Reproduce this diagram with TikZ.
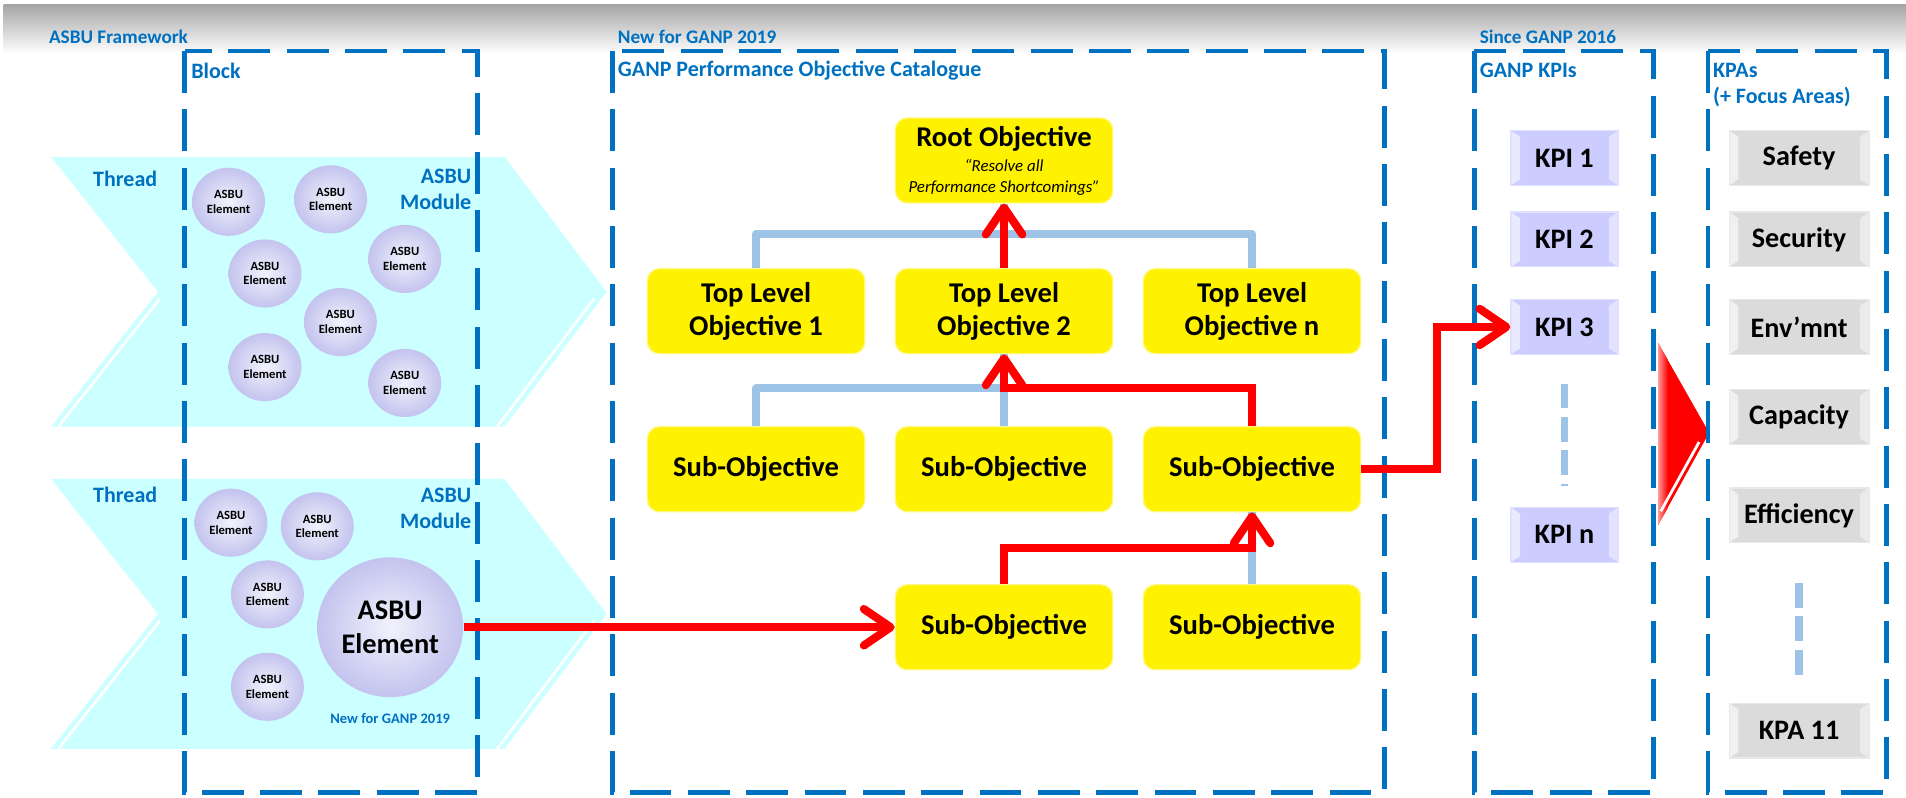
\documentclass[tikz,border=0pt]{standalone}
\usepackage{fontspec}
\setmainfont{Carlito}
\usetikzlibrary{arrows.meta,shapes.geometric}

\begin{document}
\begin{tikzpicture}[x=0.02cm, y=-0.02cm,
	%Option for the red arrows
	>={Straight Barb[round,length=0.44cm,width=0.6cm]},
	inner sep=0pt,
	dashframe/.style={draw=asbublue, line width=2.2pt, dash pattern=on 0.69cm off 0.27cm},
	toplabel/.style={text=asbublue, font=\bfseries\fontsize{9}{11}\selectfont},
	framelabel/.style={text=asbublue, font=\bfseries\fontsize{10.3}{12.2}\selectfont},
	asbuelem/.style={ellipse, minimum width=1.2cm, minimum height=1.12cm, align=center,
		inner color=elemlight, outer color=elemdark, font=\bfseries\fontsize{5.9}{6.8}\selectfont},
	bigelem/.style={asbuelem, minimum width=2.4cm, minimum height=2.3cm,
		font=\bfseries\fontsize{13.3}{15.9}\selectfont},
	objbox/.style={fill=yellow, draw=yellow!50!white, line width=0.6pt, rounded corners=0.2cm,
		minimum width=3.58cm, minimum height=1.4cm, align=center,
		font=\bfseries\fontsize{13.4}{15.3}\selectfont},
	bevel/.style={path picture={
		\fill[white, opacity=0.6] (path picture bounding box.north west) -- ++(0.15cm,-0.1cm)
		-- ([shift={(0.15cm,0.1cm)}]path picture bounding box.south west)
		-- (path picture bounding box.south west) -- cycle;
		\fill[white, opacity=0.45] (path picture bounding box.north east) -- ++(-0.15cm,-0.1cm)
		-- ([shift={(-0.15cm,0.1cm)}]path picture bounding box.south east)
		-- (path picture bounding box.south east) -- cycle;}},
	kpibox/.style={fill=kpiblue, draw=kpiblue!60!white, line width=0.6pt, bevel,
		minimum width=1.76cm, minimum height=0.9cm, font=\bfseries\fontsize{13.2}{15}\selectfont},
	kpabox/.style={kpibox, fill=kpagray, draw=kpagray!60!white, minimum width=2.3cm},
	treelink/.style={draw=treeblue, line width=3.8pt, line join=round},
	redlink/.style={draw=red, line width=3.8pt, ->},
	morelink/.style={draw=treeblue, line width=0.12cm, dash pattern=on 0.41cm off 0.14cm},
	]
	% Colors
	\definecolor{asbublue}{HTML}{0070C0}
	\definecolor{threadcyan}{HTML}{CCFFFF}
	\definecolor{treeblue}{HTML}{9DC3E6}
	\definecolor{kpiblue}{HTML}{CCCCFF}
	\definecolor{kpagray}{HTML}{DBDBDB}
	\definecolor{elemlight}{HTML}{F2F2FD}
	\definecolor{elemdark}{HTML}{C3C3EE}
	
	\useasboundingbox (0,0) rectangle (1568,656);
	
	% Header band
	\shade[top color=black!35, bottom color=white] (3,4) rectangle (1568,44);
	\node[toplabel, anchor=west] (fwlbl) at (40,30) {ASBU Framework};
	\node[toplabel, anchor=west] (new19lbl) at (508,30) {New for GANP 2019};
	\node[toplabel, anchor=west] (since16lbl) at (1217,30) {Since GANP 2016};
	
	% Threads
	\foreach \m in {240,505}{
		\fill[threadcyan] (42,\m-111) -- (415,\m-111) -- (499,\m) -- (415,\m+111)
		-- (42,\m+111) -- (130,\m) -- cycle;
		\draw[white, line width=1.2pt] (131.6,\m+5.5) -- (48,\m+111)
		(488.8,\m+5.5) -- (409,\m+111);
	}
	
	% KPI to KPA arrow
	\fill[red] (1364,282) -- (1406,356) -- (1364,432) -- cycle;
	\shade[left color=red!40!white, right color=red] (1364,282) -- (1372,296) -- (1372,418) -- (1364,432) -- cycle;
	\draw[white, line width=1.3pt] (1397.8,363.6) -- (1366.3,420.6);
	
	% Frames
	\draw[dashframe] (152,42) rectangle (393,652);
	\draw[dashframe] (504,42) rectangle (1139,652);
	\draw[dashframe] (1213,42) rectangle (1360,652);
	\draw[dashframe] (1405,42) rectangle (1552,652);
	
	\node[framelabel, anchor=west] (blocklbl) at (157,58) {Block};
	\node[framelabel, anchor=west] (poclbl) at (508,58) {GANP Performance Objective Catalogue};
	\node[framelabel, anchor=west] (kpilbl) at (1217,58) {GANP KPIs};
	\node[framelabel, anchor=west, align=left] (kpalbl) at (1409,70) {KPAs\\(+ Focus Areas)};
	
	\node[framelabel] (thread1) at (103,147) {Thread};
	\node[framelabel] (thread2) at (103,407) {Thread};
	\node[framelabel, anchor=east, align=right] (module1) at (388,156) {ASBU\\Module};
	\node[framelabel, anchor=east, align=right] (module2) at (388,418) {ASBU\\Module};
	
	% ASBU elements
	\node[asbuelem] (el1) at (188,166) {ASBU\\Element};
	\node[asbuelem] (el2) at (272,164) {ASBU\\Element};
	\node[asbuelem] (el3) at (218,225) {ASBU\\Element};
	\node[asbuelem] (el4) at (333,213) {ASBU\\Element};
	\node[asbuelem] (el5) at (280,265) {ASBU\\Element};
	\node[asbuelem] (el6) at (218,302) {ASBU\\Element};
	\node[asbuelem] (el7) at (333,315) {ASBU\\Element};
	
	\node[asbuelem] (el8) at (190,430) {ASBU\\Element};
	\node[asbuelem] (el9) at (261,433) {ASBU\\Element};
	\node[asbuelem] (el10) at (220,489) {ASBU\\Element};
	\node[asbuelem] (el11) at (220,565) {ASBU\\Element};
	\node[bigelem] (bigel) at (321,516) {ASBU\\Element};
	\node[text=asbublue, font=\bfseries\fontsize{6.8}{8}\selectfont] (newel) at (321,591) {New for GANP 2019};
	
	% Objectives
	\node[objbox] (root) at (826,132) {Root Objective\\[-3.4pt]
		{\mdseries\itshape\fontsize{7.9}{9.6}\selectfont “Resolve all}\\[-5.7pt]
		{\mdseries\itshape\fontsize{7.9}{9.6}\selectfont Performance Shortcomings”}};
	\node[objbox] (tlo1) at (622,256) {Top Level\\Objective 1};
	\node[objbox] (tlo2) at (826,256) {Top Level\\Objective 2};
	\node[objbox] (tlon) at (1030,256) {Top Level\\Objective n};
	\node[objbox] (sub11) at (622,386) {Sub-Objective};
	\node[objbox] (sub12) at (826,386) {Sub-Objective};
	\node[objbox] (sub13) at (1030,386) {Sub-Objective};
	\node[objbox] (sub21) at (826,516) {Sub-Objective};
	\node[objbox] (sub22) at (1030,516) {Sub-Objective};
	
	% KPIs
	\node[kpibox] (kpi1) at (1287,130) {KPI 1};
	\node[kpibox] (kpi2) at (1287,197) {KPI 2};
	\node[kpibox] (kpi3) at (1287,269) {KPI 3};
	\node[kpibox] (kpin) at (1287,440) {KPI n};
	
	% KPAs
	\node[kpabox] (safety) at (1480,130) {Safety};
	\node[kpabox] (security) at (1480,197) {Security};
	\node[kpabox] (envmnt) at (1480,269) {Env’mnt};
	\node[kpabox] (capacity) at (1480,343) {Capacity};
	\node[kpabox] (efficiency) at (1480,424) {Efficiency};
	\node[kpabox] (kpa11) at (1480,601) {KPA 11};
	
	\draw[morelink] ([yshift=-0.47cm]kpi3.south) -- ([yshift=0.35cm]kpin.north);
	\draw[morelink] ([yshift=-0.65cm]efficiency.south) -- ([yshift=0.33cm]kpa11.north);
	
	% Objective tree
	\draw[treelink] (tlo1.north) -- ++(0,-28) -| (tlon.north);
	\draw[treelink] (tlo2.north) -- (root.south);
	\draw[treelink] (sub11.north) -- ++(0,-31) -| (sub13.north);
	\draw[treelink] (sub12.north) -- (tlo2.south);
	\draw[treelink] (sub22.north) -- (sub13.south);
	
	% Contribution path
	\draw[redlink] (bigel.east) -- (sub21.west);
	\draw[redlink] (sub21.north) -- ++(0,-30) -| (sub13.south);
	\draw[redlink] (sub13.north) -- ++(0,-31) -| (tlo2.south);
	\draw[redlink] (tlo2.north) -- (root.south);
	\draw[redlink] (sub13.east) -- ++(62,0) |- (kpi3.west);
\end{tikzpicture}
\end{document}
